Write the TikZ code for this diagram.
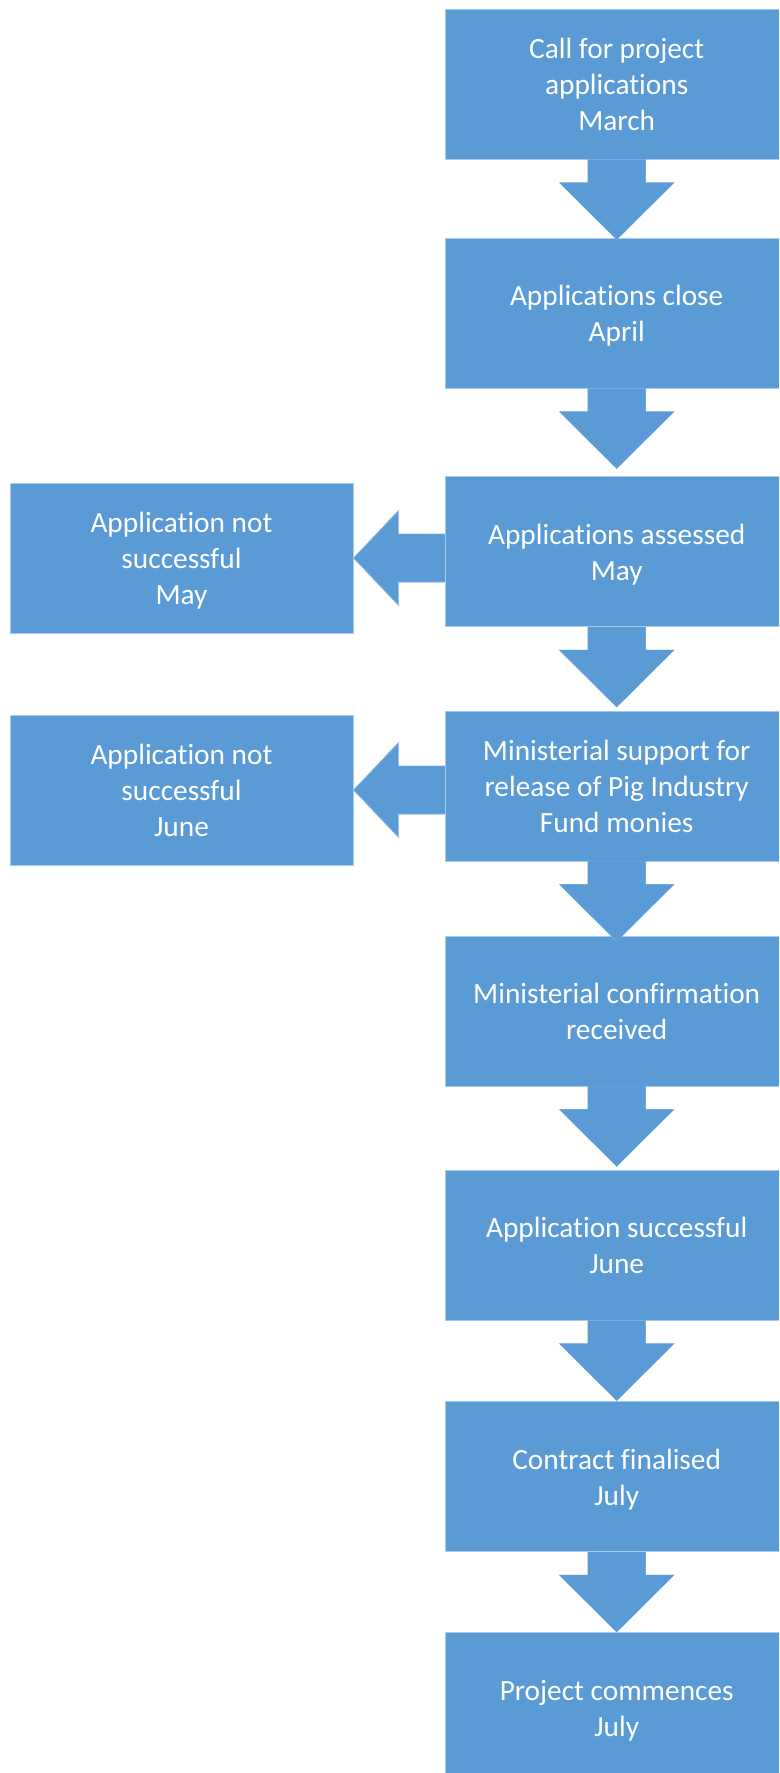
\documentclass[tikz,border=0pt]{standalone}
\usepackage{fontspec}
\setmainfont[Ligatures=NoCommon]{Carlito}
\usetikzlibrary{calc}
\definecolor{mainblue}{HTML}{5B9BD5}
\definecolor{edgeblue}{HTML}{A6C8EA}
\newcommand\boxstrut{\rule[-5pt]{0pt}{26pt}}
\newcommand\bt[1]{\boxstrut#1\boxstrut}
\tikzset{
  stepbox/.style={rectangle, fill=mainblue, draw=edgeblue, line width=0.45pt,
    minimum width=257.25pt, minimum height=112.5pt, inner sep=0pt,
    text=white, align=center, font=\fontsize{22}{27}\selectfont},
  blockarrow/.style={fill=mainblue, draw=edgeblue, line width=0.45pt},
}
\newcommand\downblock[1]{%
  \filldraw[blockarrow, shift={(#1.south)}]
    (-28.85,0) -- (-28.85,23) -- (-57.35,23) -- (0,80) -- (57.35,23) -- (28.85,23) -- (28.85,0);
  \fill[mainblue, shift={(#1.south)}]
    (-28.85,0) -- (-28.85,23) -- (-57.35,23) -- (0,80) -- (57.35,23) -- (28.85,23) -- (28.85,0) -- cycle;}
\newcommand\leftblock[1]{%
  \filldraw[blockarrow, shift={(#1.east)}]
    (0,0) -- (45.4,-47.8) -- (45.4,-24.2) -- (92.6,-24.2) -- (92.6,24.2) -- (45.4,24.2) -- (45.4,47.8) -- cycle;}
\begin{document}
\begin{tikzpicture}[x=0.75pt, y=-0.75pt]
\useasboundingbox (0,0) rectangle (779,1773);
\clip (0,0) rectangle (779,1773);
% side boxes
\node[stepbox] (n1) at (181.5,558) {\bt{Application not\\successful\\May}};
\node[stepbox] (n2) at (181.5,790) {\bt{Application not\\successful\\June}};
% side arrows (behind main boxes)
\leftblock{n1}
\leftblock{n2}
% main column
\node[stepbox] (b1) at (616.7,84.3) {\bt{Call for project\\applications\\March}};
\node[stepbox] (b2) at (616.7,313.3) {\bt{Applications close\\April}};
\node[stepbox] (b3) at (616.7,551.7) {\bt{Applications assessed\\May}};
\node[stepbox] (b4) at (616.7,786) {\bt{Ministerial support for\\release of Pig Industry\\Fund monies}};
\node[stepbox] (b5) at (616.7,1011) {\bt{Ministerial confirmation\\received}};
\node[stepbox] (b6) at (616.7,1245.3) {\bt{Application successful\\June}};
\node[stepbox] (b7) at (616.7,1476.7) {\bt{Contract finalised\\July}};
\node[stepbox] (b8) at (616.7,1707.7) {\bt{Project commences\\July}};
% down arrows
\downblock{b1}
\downblock{b2}
\downblock{b3}
\downblock{b4}
\downblock{b5}
\downblock{b6}
\downblock{b7}
\end{tikzpicture}
\end{document}
